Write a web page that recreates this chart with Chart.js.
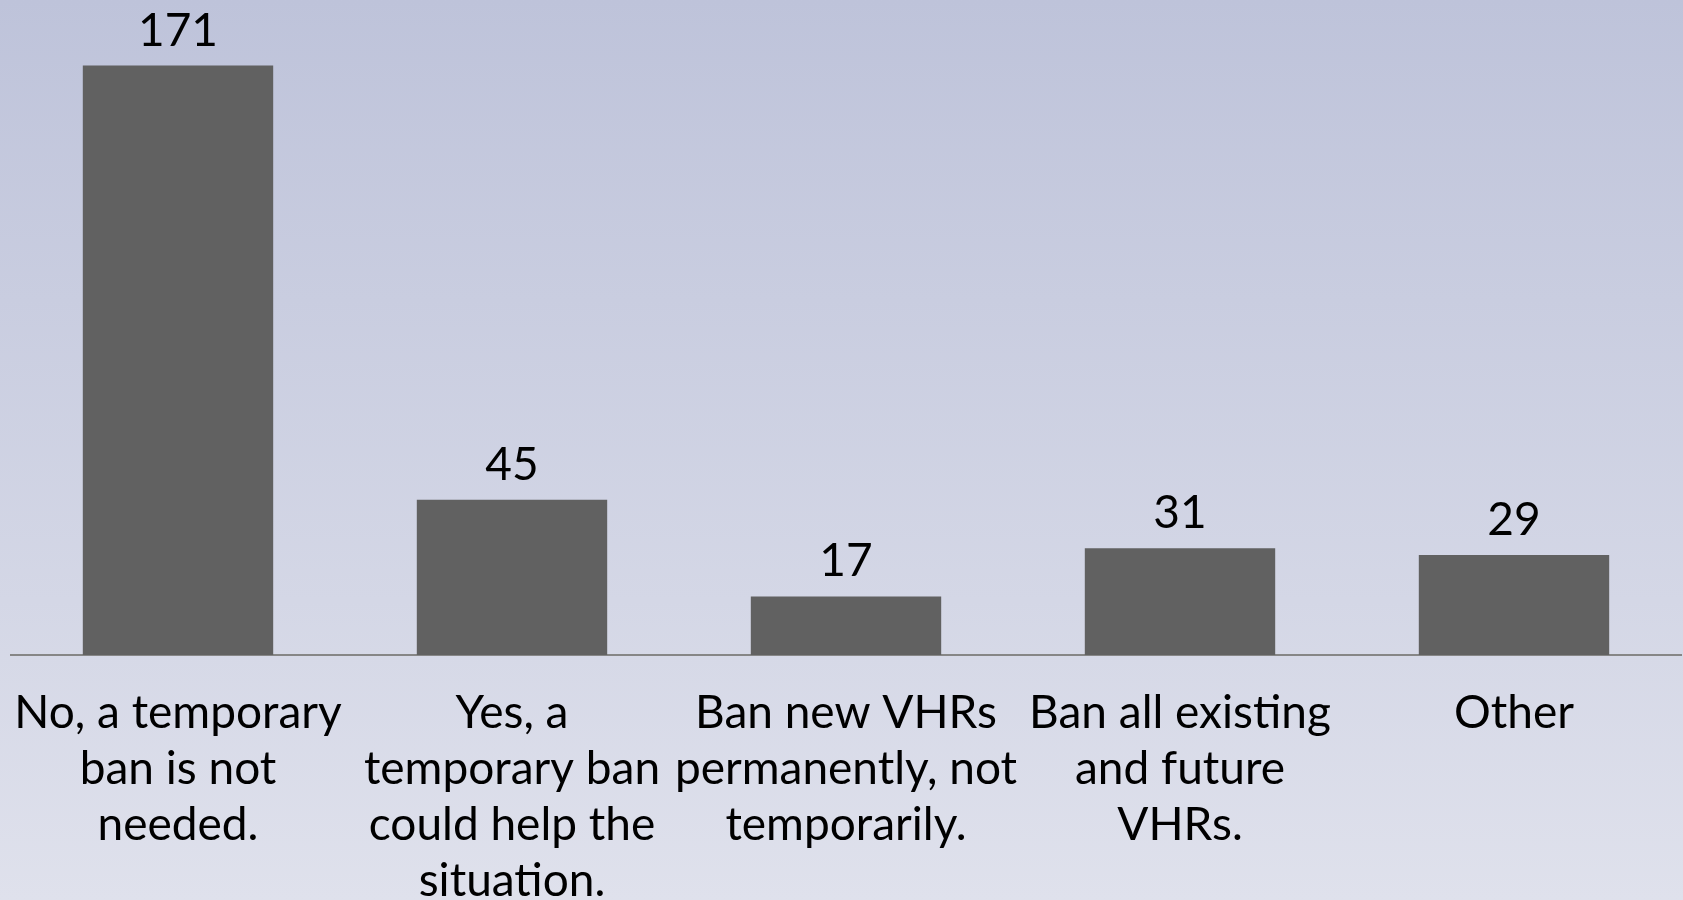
<!DOCTYPE html>
<html>
<head>
<meta charset="utf-8">
<script src="https://cdn.jsdelivr.net/npm/chart.js@4/dist/chart.umd.min.js"></script>
<style>
  html, body { margin: 0; padding: 0; }
  body { width: 1683px; height: 900px; overflow: hidden;
         background: linear-gradient(to bottom, #bec3da 0%, #dfe1ec 100%); }
  #wrap { position: relative; width: 1683px; height: 900px; }
</style>
</head>
<body>
<div id="wrap"><canvas id="c" width="1683" height="900"></canvas></div>
<script>
const categories = [
  ["No, a temporary", "ban is not", "needed."],
  ["Yes, a", "temporary ban", "could help the", "situation."],
  ["Ban new VHRs", "permanently, not", "temporarily."],
  ["Ban all existing", "and future", "VHRs."],
  ["Other"]
];
const responses = [171, 45, 17, 31, 29];

const FONT = 'Lato, "Open Sans", sans-serif';

const valueLabels = {
  id: 'valueLabels',
  afterDatasetsDraw(chart) {
    const ctx = chart.ctx;
    const meta = chart.getDatasetMeta(0);
    ctx.save();
    ctx.font = '46px ' + FONT;
    ctx.fillStyle = '#000';
    ctx.textAlign = 'center';
    ctx.textBaseline = 'alphabetic';
    meta.data.forEach((bar, i) => {
      ctx.fillText(String(chart.data.datasets[0].data[i]), bar.x, bar.y - 20);
    });
    ctx.restore();
  }
};

new Chart(document.getElementById('c'), {
  type: 'bar',
  data: {
    labels: categories,
    datasets: [{
      data: responses,
      backgroundColor: '#616161',
      borderWidth: 0,
      categoryPercentage: 1,
      barPercentage: 0.57
    }]
  },
  options: {
    responsive: false,
    animation: false,
    layout: { padding: { left: 11, right: 2, top: 0, bottom: 0 } },
    plugins: { legend: { display: false }, tooltip: { enabled: false } },
    scales: {
      x: {
        grid: { display: false, drawTicks: false },
        border: { display: true, color: '#868686', width: 2 },
        ticks: {
          color: '#000',
          font: { family: FONT, size: 46, lineHeight: 1.22 },
          padding: 30,
          maxRotation: 0,
          autoSkip: false
        },
        afterFit(scale) {
          scale.height = 245;
          scale.paddingLeft = 0;
          scale.paddingRight = 0;
        }
      },
      y: {
        display: false,
        min: 0,
        max: 190
      }
    }
  },
  plugins: [valueLabels]
});
</script>
</body>
</html>
